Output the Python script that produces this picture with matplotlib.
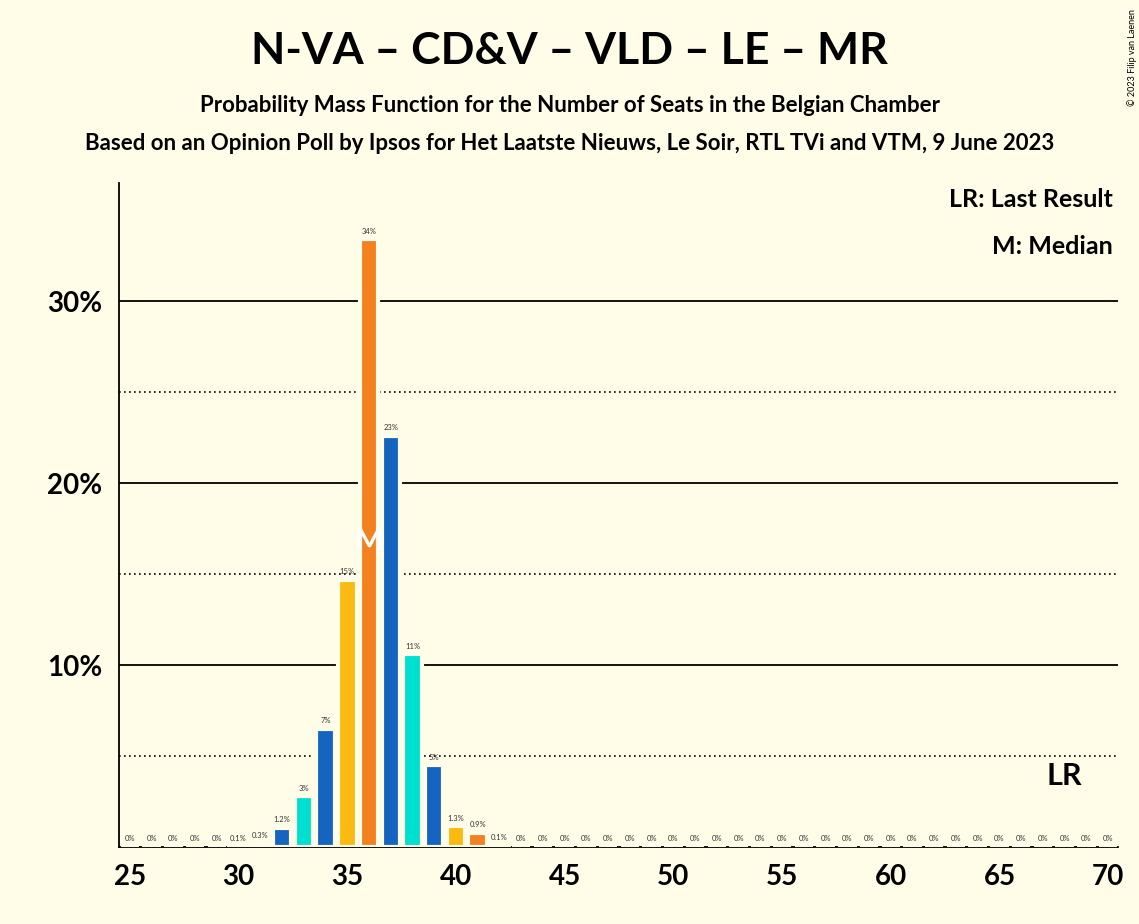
import numpy as np
import matplotlib.pyplot as plt

plt.rcParams['font.family'] = ['Lato', 'DejaVu Sans']

seats = list(range(25, 71))
probs = [0, 0, 0, 0, 0, 0.05, 0.2, 1.05, 2.8, 6.5, 14.7, 33.4, 22.6, 10.6, 4.5, 1.15, 0.77, 0.08] + [0] * 28
labels = ['0%'] * 5 + ['0.1%', '0.3%', '1.2%', '3%', '7%', '15%', '34%', '23%', '11%', '5%',
                       '1.3%', '0.9%', '0.1%'] + ['0%'] * 28
palette = ['#F48120', '#1565C0', '#00E0D0', '#1565C0', '#FBBA12']
median = 36
last_result = 68

bg = '#FFFDE7'
fig = plt.figure(figsize=(11.39, 9.24), dpi=100, facecolor=bg)
ax = fig.add_axes([0.1045, 0.0833, 0.877, 0.7187], facecolor=bg)

colors = [palette[(s - 31) % 5] for s in seats]
ax.bar(seats, probs, width=0.85, color=colors, edgecolor=bg, linewidth=3, zorder=3)
for s, p, l in zip(seats, probs, labels):
    ax.text(s, p + 0.25, l, ha='center', va='bottom', fontsize=5.5, color='#333333', zorder=4)

for y in [10, 20, 30]:
    ax.axhline(y, color='black', lw=1.3, zorder=1)
for y in [5, 15, 25]:
    ax.axhline(y, color='black', lw=1.2, ls=(0, (1, 2)), zorder=1)

ax.text(median, 16.8, 'M', ha='center', va='center', color='white', fontsize=22, fontweight='bold', zorder=5)
ax.text(last_result, 3.9, 'LR', ha='center', va='center', color='black', fontsize=22, fontweight='bold', zorder=5)

ax.set_xlim(24.5, 70.45)
ax.set_ylim(0, 36.5)
ax.set_xticks(range(25, 71, 5))
ax.set_yticks([10, 20, 30])
ax.set_yticklabels(['10%', '20%', '30%'])
ax.tick_params(length=0, labelsize=20, pad=12)
for lab in ax.get_xticklabels() + ax.get_yticklabels():
    lab.set_fontweight('bold')
for sp in ['top', 'right']:
    ax.spines[sp].set_visible(False)
ax.spines['left'].set_linewidth(1.3)
ax.spines['bottom'].set_linewidth(1.3)

ax.text(0.995, 0.975, 'LR: Last Result', transform=ax.transAxes, ha='right', va='center', fontsize=18, fontweight='bold')
ax.text(0.995, 0.905, 'M: Median', transform=ax.transAxes, ha='right', va='center', fontsize=18, fontweight='bold')

fig.text(0.5, 0.945, 'N-VA – CD&V – VLD – LE – MR', ha='center', va='center', fontsize=32, fontweight='bold')
fig.text(0.5, 0.886, 'Probability Mass Function for the Number of Seats in the Belgian Chamber',
         ha='center', va='center', fontsize=16, fontweight='bold')
fig.text(0.5, 0.845, 'Based on an Opinion Poll by Ipsos for Het Laatste Nieuws, Le Soir, RTL TVi and VTM, 9 June 2023',
         ha='center', va='center', fontsize=16, fontweight='bold')
fig.text(0.994, 0.99, '© 2023 Filip van Laenen', rotation=90, ha='center', va='top', fontsize=6.5)

fig.savefig('out.png', dpi=100, facecolor=bg)
